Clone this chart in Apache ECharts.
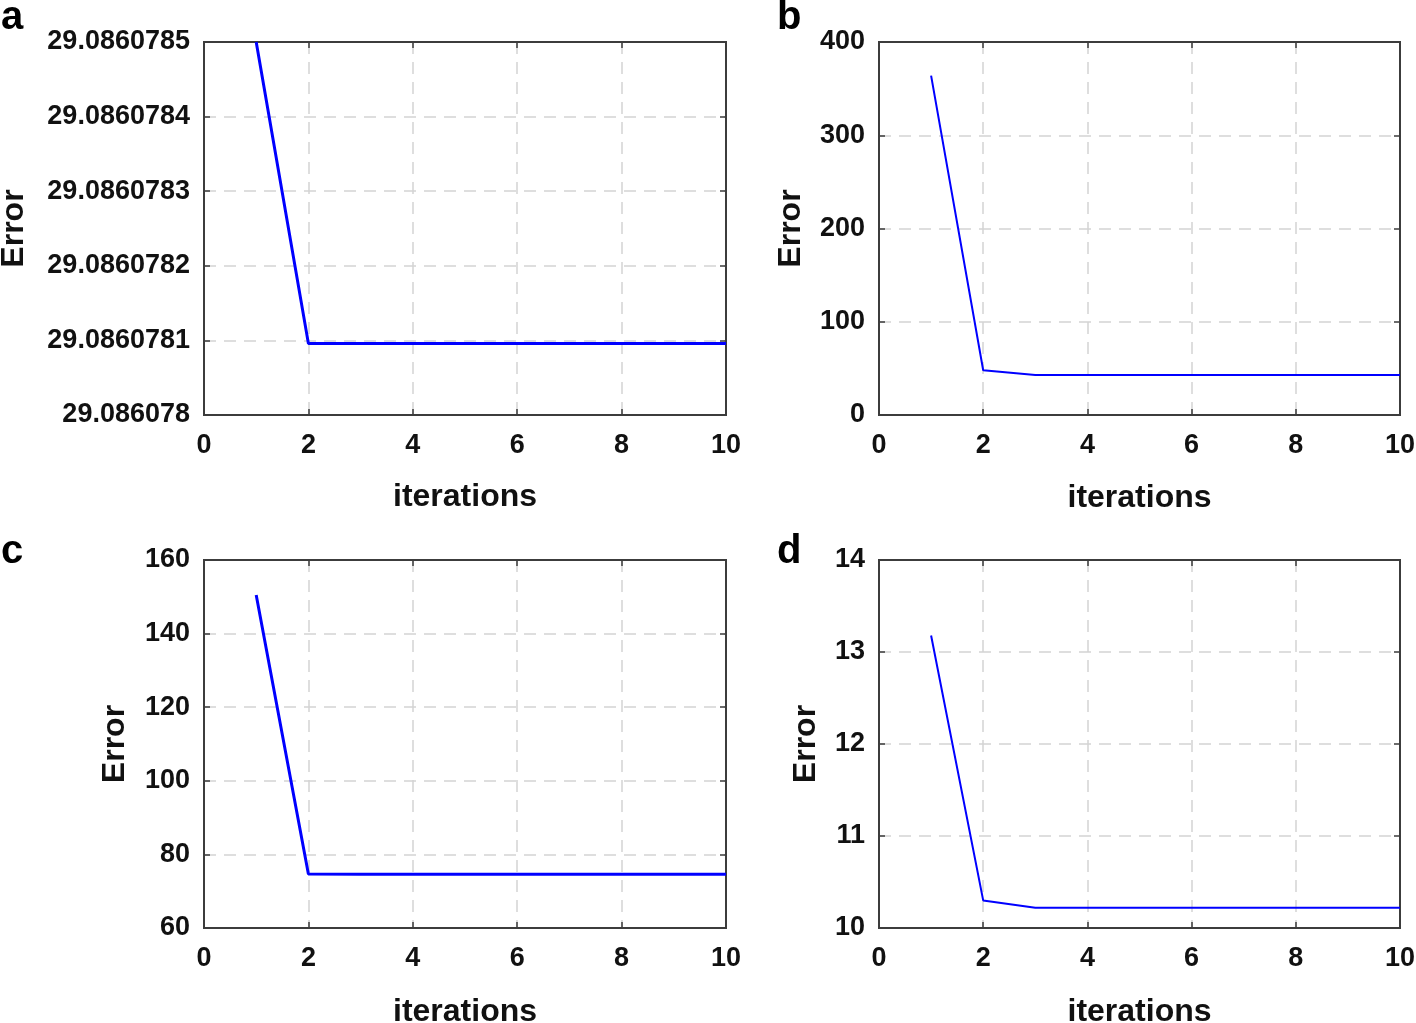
<!DOCTYPE html>
<html>
<head>
<meta charset="utf-8">
<script src="https://cdn.jsdelivr.net/npm/echarts@6/dist/echarts.min.js"></script>
<style>
  html, body { margin: 0; padding: 0; background: #fff; }
  #chart { width: 1416px; height: 1023px; }
</style>
</head>
<body>
<div id="chart"></div>
<script>
  // iterations on the x axis (same for every panel)
  const iterations = [1, 2, 3, 4, 5, 6, 7, 8, 9, 10];
  const xTicks = { min: 0, max: 10, step: 2 };

  // error values
  const errA = [29.0860785, 29.086078096, 29.086078096, 29.086078096, 29.086078096,
                29.086078096, 29.086078096, 29.086078096, 29.086078096, 29.086078096];
  const errB = [364, 48, 43, 43, 43, 43, 43, 43, 43, 43];
  const errC = [150.5, 74.7, 74.6, 74.6, 74.6, 74.6, 74.6, 74.6, 74.6, 74.6];
  const errD = [13.18, 10.3, 10.22, 10.22, 10.22, 10.22, 10.22, 10.22, 10.22, 10.22];

  // y ranges per panel
  const yRangeA = { min: 29.086078, max: 29.0860785, step: 0.0000001 };
  const yRangeB = { min: 0, max: 400, step: 100 };
  const yRangeC = { min: 60, max: 160, step: 20 };
  const yRangeD = { min: 10, max: 14, step: 1 };

  const panelLetters = ['a', 'b', 'c', 'd'];

  const FONT = '"Liberation Sans", Arial, sans-serif';
  const boxColor = '#3c3c3c';

  const panels = [
    { rect: { left: 204, top: 42, width: 522, height: 373 }, y: yRangeA, err: errA, lw: 3, yGap: 174, xGap: 66,
      fmt: v => String(+v.toFixed(7)) },
    { rect: { left: 879, top: 42, width: 521, height: 373 }, y: yRangeB, err: errB, lw: 2, yGap: 72, xGap: 67 },
    { rect: { left: 204, top: 560, width: 522, height: 368 }, y: yRangeC, err: errC, lw: 3, yGap: 73, xGap: 68 },
    { rect: { left: 879, top: 560, width: 521, height: 368 }, y: yRangeD, err: errD, lw: 2, yGap: 57, xGap: 68 }
  ];

  const grid = [], xAxis = [], yAxis = [], series = [];

  panels.forEach((p, i) => {
    grid.push(Object.assign({
      show: true, borderColor: boxColor, borderWidth: 2,
      containLabel: false, outerBoundsMode: 'none'
    }, p.rect));

    const tick = { show: true, inside: true, length: 6, lineStyle: { color: boxColor, width: 1.5 } };
    const dashed = { show: true, lineStyle: { color: '#d4d4d4', width: 1.5, type: [12, 8] } };
    const line = { show: true, onZero: false, lineStyle: { color: boxColor, width: 2 } };

    // bottom x axis
    xAxis.push({
      type: 'value', gridIndex: i, min: xTicks.min, max: xTicks.max, interval: xTicks.step,
      name: 'iterations', nameLocation: 'middle', nameGap: p.xGap,
      nameTextStyle: { fontFamily: FONT, fontWeight: 'bold', fontSize: 32, color: '#111' },
      axisLine: line,
      axisTick: tick,
      axisLabel: { fontFamily: FONT, fontWeight: 'bold', fontSize: 27, color: '#111', margin: 17 },
      splitLine: dashed
    });
    // top x axis (ticks only)
    xAxis.push({
      type: 'value', gridIndex: i, position: 'top', min: xTicks.min, max: xTicks.max, interval: xTicks.step,
      axisLine: line, axisTick: tick, axisLabel: { show: false }, splitLine: { show: false }
    });
    // left y axis
    yAxis.push({
      type: 'value', gridIndex: i, min: p.y.min, max: p.y.max, interval: p.y.step,
      name: 'Error', nameLocation: 'middle', nameGap: p.yGap, nameRotate: 90,
      nameTextStyle: { fontFamily: FONT, fontWeight: 'bold', fontSize: 32, color: '#111' },
      axisLine: line,
      axisTick: tick,
      axisLabel: { fontFamily: FONT, fontWeight: 'bold', fontSize: 27, color: '#111', margin: 14,
                   formatter: p.fmt || (v => String(v)) },
      splitLine: dashed
    });
    // right y axis (ticks only)
    yAxis.push({
      type: 'value', gridIndex: i, position: 'right', min: p.y.min, max: p.y.max, interval: p.y.step,
      axisLine: line, axisTick: tick, axisLabel: { show: false }, splitLine: { show: false }
    });

    series.push({
      type: 'line', xAxisIndex: i * 2, yAxisIndex: i * 2,
      data: iterations.map((it, k) => [it, p.err[k]]),
      showSymbol: false, clip: true,
      lineStyle: { color: '#0000ff', width: p.lw },
      animation: false
    });
  });

  const title = [
    { text: panelLetters[0], left: 1, top: -2 },
    { text: panelLetters[1], left: 777, top: -2 },
    { text: panelLetters[2], left: 1, top: 532 },
    { text: panelLetters[3], left: 777, top: 532 }
  ].map(t => Object.assign(t, {
    padding: 0,
    textStyle: { fontFamily: FONT, fontWeight: 'bold', fontSize: 40, color: '#000' }
  }));

  const chart = echarts.init(document.getElementById('chart'), null, { renderer: 'canvas' });
  chart.setOption({
    backgroundColor: '#fff',
    animation: false,
    title: title,
    grid: grid,
    xAxis: xAxis,
    yAxis: yAxis,
    series: series
  });
</script>
</body>
</html>
